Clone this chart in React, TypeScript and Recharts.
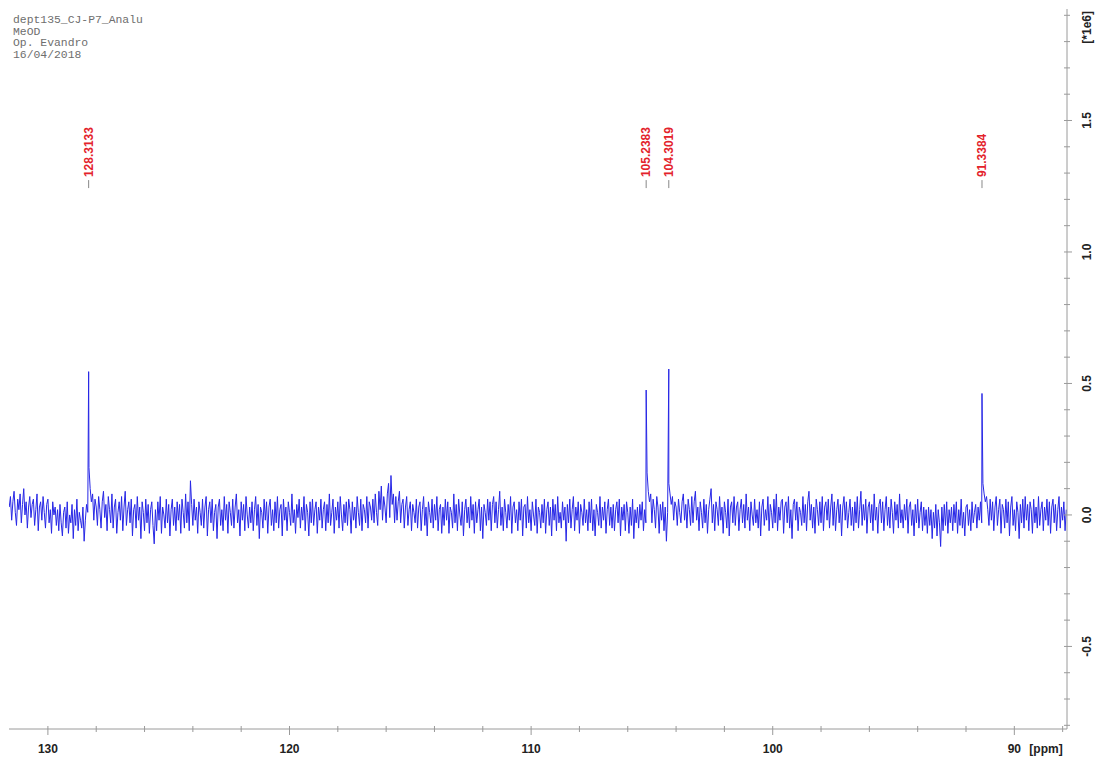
import React from 'react';
import { LineChart, Line, XAxis, YAxis, ReferenceDot } from 'recharts';

// DEPT-135 spectrum, intensities in units of 1e6, sampled every 0.05 ppm from 131.6 ppm downward
const SAMPLE_START_PPM = 131.6;
const SAMPLE_STEP_PPM = 0.05;

const intensity = [
  // 131.60 - 130.65
  0.03, 0.07, -0.02, 0.05, 0.09, 0.01, -0.04, 0.06, 0.02, 0.08, -0.03, 0.04, 0.10, 0.00, 0.05, -0.05, 0.03, 0.07, -0.01, 0.04,
  // 130.60 - 129.65
  0.06, -0.04, 0.02, 0.08, -0.06, 0.03, 0.05, -0.02, 0.07, 0.01, -0.05, 0.04, 0.06, -0.03, 0.02, -0.07, 0.05, 0.00, 0.03, -0.04,
  // 129.60 - 128.65
  0.02, -0.06, 0.04, -0.03, -0.08, 0.01, 0.03, -0.05, 0.05, -0.07, 0.00, -0.03, 0.04, -0.09, 0.02, -0.04, 0.06, -0.06, 0.01, -0.02,
  // 128.60 - 127.65
  -0.05, 0.03, -0.10, -0.02, 0.04, 0.01, 0.18, 0.10, 0.05, 0.08, -0.02, 0.06, 0.03, -0.04, 0.07, 0.02, -0.05, 0.05, 0.09, -0.01,
  // 127.60 - 126.65
  0.04, -0.06, 0.07, 0.02, -0.03, 0.08, -0.05, 0.03, 0.06, -0.07, 0.01, 0.05, -0.02, 0.07, -0.06, 0.03, 0.09, -0.04, 0.02, 0.05,
  // 126.60 - 125.65
  -0.03, 0.06, -0.08, 0.02, 0.04, -0.05, 0.07, -0.02, 0.03, -0.09, 0.05, 0.01, -0.06, 0.06, -0.03, 0.04, -0.07, 0.02, 0.05, -0.04,
  // 125.60 - 124.65
  -0.11, 0.02, -0.06, 0.05, -0.02, 0.07, -0.07, 0.03, 0.00, -0.05, 0.06, -0.03, 0.04, -0.08, 0.02, 0.06, -0.04, 0.03, -0.06, 0.05,
  // 124.60 - 123.65
  -0.02, 0.04, -0.07, 0.06, 0.01, -0.05, 0.08, -0.03, 0.05, -0.06, 0.13, 0.04, -0.04, 0.06, -0.02, 0.03, -0.07, 0.05, 0.01, -0.04,
  // 123.60 - 122.65
  0.06, -0.05, 0.03, 0.07, -0.08, 0.02, 0.05, -0.03, 0.06, -0.06, 0.01, 0.04, -0.09, 0.03, 0.06, -0.04, 0.02, -0.06, 0.07, -0.02,
  // 122.60 - 121.65
  0.04, -0.07, 0.05, 0.01, -0.04, 0.06, -0.05, 0.03, 0.08, -0.03, 0.02, -0.08, 0.05, -0.02, 0.04, -0.06, 0.07, 0.00, -0.05, 0.03,
  // 121.60 - 120.65
  -0.03, 0.05, -0.06, 0.02, 0.07, -0.04, 0.04, -0.09, 0.03, 0.01, -0.05, 0.06, -0.02, 0.05, -0.07, 0.03, 0.06, -0.04, 0.02, -0.06,
  // 120.60 - 119.65
  0.05, -0.03, 0.07, -0.05, 0.02, 0.04, -0.08, 0.06, -0.02, 0.03, -0.06, 0.05, 0.01, -0.04, 0.08, -0.03, 0.02, -0.07, 0.04, -0.01,
  // 119.60 - 118.65
  0.06, -0.05, 0.03, -0.02, 0.07, -0.06, 0.04, 0.01, -0.08, 0.05, -0.03, 0.06, -0.04, 0.02, 0.05, -0.07, 0.03, -0.02, 0.06, -0.05,
  // 118.60 - 117.65
  0.02, 0.05, -0.06, 0.04, -0.03, 0.08, -0.04, 0.01, 0.06, -0.07, 0.03, -0.02, 0.05, -0.05, 0.07, 0.00, -0.06, 0.04, -0.03, 0.05,
  // 117.60 - 116.65
  -0.04, 0.06, 0.02, -0.07, 0.05, -0.02, 0.03, -0.05, 0.07, 0.01, -0.04, 0.06, -0.06, 0.04, 0.02, -0.03, 0.07, -0.05, 0.05, 0.03,
  // 116.60 - 115.65
  -0.02, 0.06, -0.03, 0.08, 0.01, -0.04, 0.09, 0.02, 0.11, -0.02, 0.07, 0.03, -0.03, 0.08, 0.12, -0.01, 0.15, 0.04, 0.08, -0.03,
  // 115.60 - 114.65
  0.07, -0.02, 0.05, 0.09, -0.03, 0.04, 0.06, -0.05, 0.03, 0.07, -0.04, 0.02, 0.05, -0.06, 0.04, 0.01, -0.03, 0.06, -0.05, 0.03,
  // 114.60 - 113.65
  0.05, -0.06, 0.02, 0.07, -0.04, 0.03, -0.08, 0.05, 0.01, -0.03, 0.06, -0.05, 0.04, -0.02, 0.07, -0.06, 0.02, 0.04, -0.07, 0.03,
  // 113.60 - 112.65
  -0.04, 0.06, -0.02, 0.05, -0.07, 0.03, 0.01, -0.05, 0.08, -0.03, 0.04, -0.06, 0.06, 0.00, -0.04, 0.05, -0.08, 0.02, 0.06, -0.03,
  // 112.60 - 111.65
  0.03, -0.05, 0.07, -0.02, 0.04, -0.07, 0.05, -0.03, 0.02, 0.06, -0.06, 0.03, -0.09, 0.04, 0.01, -0.04, 0.06, -0.02, 0.05, -0.06,
  // 111.60 - 110.65
  0.04, 0.07, -0.03, 0.05, -0.05, 0.02, 0.09, -0.04, 0.03, -0.06, 0.06, 0.01, -0.05, 0.04, -0.02, 0.07, -0.07, 0.03, 0.05, -0.03,
  // 110.60 - 109.65
  0.02, -0.06, 0.05, -0.02, 0.06, -0.08, 0.03, 0.04, -0.05, 0.07, -0.03, 0.02, -0.06, 0.05, 0.00, -0.04, 0.06, -0.07, 0.03, 0.01,
  // 109.60 - 108.65
  -0.05, 0.04, -0.03, 0.06, -0.07, 0.02, 0.05, -0.04, 0.03, -0.08, 0.06, -0.02, 0.04, -0.06, 0.07, -0.03, 0.01, -0.05, 0.05, -0.02,
  // 108.60 - 107.65
  0.03, -0.10, 0.04, -0.03, 0.06, -0.05, 0.02, 0.07, -0.06, 0.03, -0.02, 0.05, -0.07, 0.04, 0.01, -0.04, 0.06, -0.03, 0.02, -0.06,
  // 107.60 - 106.65
  0.05, -0.03, 0.06, -0.06, 0.02, -0.08, 0.04, 0.01, -0.04, 0.07, -0.05, 0.03, -0.02, 0.05, -0.07, 0.02, 0.06, -0.04, 0.03, -0.05,
  // 106.60 - 105.65
  0.04, -0.06, 0.02, 0.05, -0.03, 0.06, -0.08, 0.03, -0.02, 0.04, -0.06, 0.05, 0.01, -0.07, 0.03, -0.04, 0.06, -0.09, 0.02, -0.03,
  // 105.60 - 104.65
  0.03, -0.05, 0.04, -0.02, 0.05, -0.06, 0.02, -0.03, 0.16, 0.09, 0.05, 0.08, -0.03, 0.06, 0.02, -0.05, 0.07, 0.03, -0.07, 0.04,
  // 104.60 - 103.65
  -0.02, 0.05, -0.06, 0.03, -0.10, 0.01, 0.12, 0.08, 0.04, 0.07, -0.02, 0.05, 0.03, -0.04, 0.06, 0.01, -0.03, 0.05, 0.08, -0.02,
  // 103.60 - 102.65
  0.04, -0.05, 0.06, 0.02, -0.04, 0.07, -0.03, 0.05, 0.09, -0.02, 0.03, -0.06, 0.05, 0.01, -0.05, 0.06, -0.03, 0.04, -0.07, 0.02,
  // 102.60 - 101.65
  0.06, 0.10, -0.03, 0.04, -0.06, 0.05, 0.02, -0.04, 0.07, -0.02, 0.03, -0.07, 0.05, 0.01, -0.05, 0.06, -0.08, 0.03, 0.05, -0.03,
  // 101.60 - 100.65
  0.07, -0.04, 0.03, 0.05, -0.06, 0.02, 0.06, -0.03, 0.04, -0.05, 0.08, -0.02, 0.03, -0.06, 0.05, 0.00, -0.04, 0.06, -0.03, 0.02,
  // 100.60 - 99.65
  -0.05, 0.05, -0.08, 0.03, 0.06, -0.04, 0.02, -0.02, 0.07, -0.06, 0.04, 0.01, -0.05, 0.06, -0.03, 0.08, -0.06, 0.03, -0.02, 0.05,
  // 99.60 - 98.65
  0.06, -0.07, 0.03, 0.05, -0.03, 0.07, -0.05, 0.02, -0.09, 0.04, 0.06, -0.02, 0.05, -0.06, 0.03, 0.01, -0.04, 0.07, -0.03, 0.04,
  // 98.60 - 97.65
  -0.06, 0.05, 0.09, -0.02, 0.04, -0.05, 0.03, -0.07, 0.06, 0.02, -0.04, 0.05, -0.03, 0.07, -0.06, 0.03, 0.05, -0.02, 0.06, -0.05,
  // 97.60 - 96.65
  0.03, 0.08, -0.04, 0.05, -0.06, 0.02, 0.06, -0.03, 0.04, -0.08, 0.03, 0.07, -0.02, 0.05, -0.05, 0.01, 0.06, -0.04, 0.03, -0.06,
  // 96.60 - 95.65
  0.05, -0.03, 0.07, -0.05, 0.02, 0.09, -0.04, 0.04, -0.02, 0.06, -0.07, 0.03, 0.05, -0.03, 0.04, -0.06, 0.08, -0.02, 0.03, -0.07,
  // 95.60 - 94.65
  0.04, 0.06, -0.03, 0.05, -0.06, 0.02, 0.07, -0.04, 0.03, -0.05, 0.06, 0.01, -0.07, 0.05, -0.02, 0.04, -0.05, 0.08, -0.03, 0.02,
  // 94.60 - 93.65
  -0.05, 0.04, -0.02, 0.06, -0.07, 0.03, 0.05, -0.04, 0.02, -0.08, 0.04, -0.03, 0.06, -0.05, 0.01, 0.05, -0.06, 0.03, -0.04, 0.02,
  // 93.60 - 92.65
  -0.07, 0.03, -0.04, 0.02, -0.09, 0.01, -0.05, 0.04, -0.08, 0.02, -0.03, -0.12, 0.03, -0.06, 0.04, -0.04, 0.05, -0.07, 0.02, -0.03,
  // 92.60 - 91.65
  0.03, -0.06, 0.04, -0.03, 0.05, -0.07, 0.02, -0.04, 0.06, -0.05, 0.01, -0.08, 0.03, 0.04, -0.04, 0.02, -0.06, 0.05, -0.03, 0.01,
  // 91.60 - 90.65
  0.04, -0.05, 0.03, -0.02, 0.05, -0.03, 0.12, 0.08, 0.05, 0.07, 0.02, -0.04, 0.06, -0.02, 0.05, -0.06, 0.03, 0.07, -0.04, 0.02,
  // 90.60 - 89.65
  0.06, -0.07, 0.04, 0.02, -0.05, 0.06, -0.03, 0.05, -0.08, 0.03, 0.07, -0.04, 0.02, -0.06, 0.05, 0.01, -0.09, 0.04, -0.03, 0.06,
  // 89.60 - 88.65
  -0.05, 0.07, -0.02, 0.04, -0.06, 0.05, 0.02, -0.07, 0.06, -0.03, 0.03, -0.05, 0.07, -0.04, 0.02, 0.05, -0.06, 0.03, -0.02, 0.06,
  // 88.60 - 87.85
  -0.04, 0.05, -0.07, 0.03, 0.06, -0.03, 0.04, -0.06, 0.02, 0.07, -0.05, 0.03, -0.02, 0.05, -0.06, 0.02,
];

// picked peaks
const peakPpm = [128.3133, 105.2383, 104.3019, 91.3384];
const peakHeight = [0.545, 0.475, 0.555, 0.462];

const xTicks = [130, 128, 126, 124, 122, 120, 118, 116, 114, 112, 110, 108, 106, 104, 102, 100, 98, 96, 94, 92, 90, 88];
const yTicks = [
  -0.8, -0.7, -0.6, -0.5, -0.4, -0.3, -0.2, -0.1, 0, 0.1, 0.2, 0.3, 0.4, 0.5, 0.6, 0.7, 0.8, 0.9,
  1.0, 1.1, 1.2, 1.3, 1.4, 1.5, 1.6, 1.7, 1.8, 1.9,
];

const headerLines = ['dept135_CJ-P7_Analu', 'MeOD', 'Op. Evandro', '16/04/2018'];

const X_DOMAIN: [number, number] = [87.82, 131.61];
const Y_DOMAIN: [number, number] = [-0.814, 1.924];
const LABEL_ANCHOR_Y = 1.243;

const spectrum = [
  ...intensity.map((v, i) => ({ ppm: +(SAMPLE_START_PPM - i * SAMPLE_STEP_PPM).toFixed(2), y: v })),
  ...peakPpm.map((p, i) => ({ ppm: p, y: peakHeight[i] })),
].sort((a, b) => b.ppm - a.ppm);

const AXIS = '#9a9a9a';
const FONT = '"Liberation Sans", Arial, sans-serif';

const PpmTick = (props: any) => {
  const { x, y, payload } = props;
  const v = payload.value;
  const major = v % 10 === 0;
  return (
    <g>
      <line x1={x} x2={x} y1={y - 3} y2={y + (major ? 6 : 3)} stroke={AXIS} />
      {major && (
        <text x={x} y={y + 24} textAnchor="middle" fontFamily={FONT} fontWeight="bold" fontSize={12} fill="#222">
          {v}
        </text>
      )}
      {v === 90 && (
        <text x={x + 15} y={y + 24} textAnchor="start" fontFamily={FONT} fontWeight="bold" fontSize={12} fill="#222">
          [ppm]
        </text>
      )}
    </g>
  );
};

const IntensityTick = (props: any) => {
  const { x, y, payload } = props;
  const v = payload.value;
  const major = Math.abs(v * 2 - Math.round(v * 2)) < 1e-6;
  const isTop = Math.abs(v - 1.9) < 1e-6;
  return (
    <g>
      <line x1={x - 3} x2={x + (major ? 5 : 3)} y1={y} y2={y} stroke={AXIS} />
      {major && (
        <text
          transform={`translate(${x + 20},${y}) rotate(-90)`}
          textAnchor="middle"
          dominantBaseline="central"
          fontFamily={FONT}
          fontWeight="bold"
          fontSize={12}
          fill="#222"
        >
          {v.toFixed(1)}
        </text>
      )}
      {isTop && (
        <text
          transform={`translate(${x + 20},${y + 12}) rotate(-90)`}
          textAnchor="middle"
          dominantBaseline="central"
          fontFamily={FONT}
          fontWeight="bold"
          fontSize={12}
          fill="#222"
        >
          [*1e6]
        </text>
      )}
    </g>
  );
};

const PeakLabel = (label: string) => (props: any) => {
  const { cx, cy } = props;
  return (
    <g>
      <line x1={cx} x2={cx} y1={cy - 8} y2={cy} stroke="#888" />
      <text
        transform={`translate(${cx},${cy - 11}) rotate(-90)`}
        textAnchor="start"
        dominantBaseline="central"
        fontFamily={FONT}
        fontWeight="bold"
        fontSize={12}
        fill="#e3222b"
      >
        {label}
      </text>
    </g>
  );
};

export default function App() {
  return (
    <div style={{ position: 'absolute', left: 8, top: 8, width: 1087, height: 753 }}>
      <LineChart width={1087} height={753} data={spectrum} margin={{ top: 1, right: 0, bottom: 0, left: 1 }}>
        <XAxis
          dataKey="ppm"
          type="number"
          domain={X_DOMAIN}
          allowDataOverflow
          reversed
          ticks={xTicks}
          interval={0}
          height={32}
          tickSize={0}
          tickMargin={0}
          tickLine={false}
          axisLine={{ stroke: AXIS }}
          tick={<PpmTick />}
        />
        <XAxis
          xAxisId="frame"
          orientation="top"
          type="number"
          domain={X_DOMAIN}
          allowDataOverflow
          reversed
          height={0}
          tick={false}
          tickLine={false}
          axisLine={{ stroke: AXIS }}
        />
        <YAxis
          orientation="right"
          type="number"
          domain={Y_DOMAIN}
          allowDataOverflow
          ticks={yTicks}
          interval={0}
          width={28}
          tickSize={0}
          tickMargin={0}
          tickLine={false}
          axisLine={{ stroke: AXIS }}
          tick={<IntensityTick />}
        />
        <YAxis
          yAxisId="frame"
          orientation="left"
          type="number"
          domain={Y_DOMAIN}
          allowDataOverflow
          width={0}
          tick={false}
          tickLine={false}
          axisLine={{ stroke: AXIS }}
        />
        <Line
          type="linear"
          dataKey="y"
          stroke="#2727e6"
          strokeWidth={1}
          dot={false}
          isAnimationActive={false}
        />
        {peakPpm.map((p) => (
          <ReferenceDot key={p} x={p} y={LABEL_ANCHOR_Y} r={0} shape={PeakLabel(p.toFixed(4))} />
        ))}
      </LineChart>
      <div
        style={{
          position: 'absolute',
          left: 5,
          top: 7,
          fontFamily: '"Liberation Mono", monospace',
          fontSize: 11.4,
          lineHeight: '11.7px',
          color: '#6e6e6e',
        }}
      >
        {headerLines.map((l) => (
          <div key={l}>{l}</div>
        ))}
      </div>
    </div>
  );
}
